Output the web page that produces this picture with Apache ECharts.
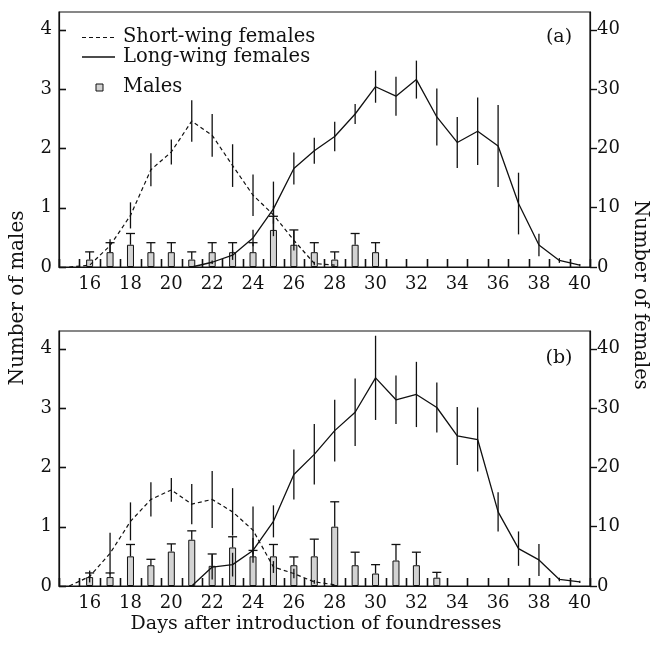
<!DOCTYPE html>
<html>
<head>
<meta charset="utf-8">
<script src="https://cdn.jsdelivr.net/npm/echarts/dist/echarts.min.js"></script>
<style>
  html, body { margin: 0; padding: 0; background: #fff; }
  #chart { width: 654px; height: 648px; }
</style>
</head>
<body>
<div id="chart"></div>
<script>
// days after introduction of foundresses
var days = [15, 16, 17, 18, 19, 20, 21, 22, 23, 24, 25, 26, 27, 28, 29, 30, 31, 32, 33, 34, 35, 36, 37, 38, 39, 40];
var dayLabels = [16, 18, 20, 22, 24, 26, 28, 30, 32, 34, 36, 38, 40];
var maleTicks = [0, 1, 2, 3, 4];
var femaleTicks = [0, 10, 20, 30, 40];

// panel (a)
var shortA    = [0, 0.3, 3.6, 8.7, 16.4, 19.4, 24.6, 22.2, 17.1, 12.1, 8.8, 4.5, 0.6, 0.3, '-', '-', '-', '-', '-', '-', '-', '-', '-', '-', '-', '-'];
var shortAErr = [0, 0, 1.1, 2.2, 2.8, 2.1, 3.5, 3.6, 3.6, 3.5, 1.5, 1.7, 0.3, 0, '-', '-', '-', '-', '-', '-', '-', '-', '-', '-', '-', '-'];
var longA     = ['-', '-', '-', '-', '-', '-', 0, 0.8, 2.0, 4.9, 9.8, 16.6, 19.6, 22.0, 25.8, 30.4, 28.8, 31.6, 25.3, 21.0, 22.9, 20.4, 10.7, 3.7, 1.1, 0.3];
var longAErr  = ['-', '-', '-', '-', '-', '-', 0, 0.3, 0.8, 1.4, 4.6, 2.7, 2.2, 2.5, 1.7, 2.7, 3.3, 3.2, 4.8, 4.3, 5.7, 6.9, 5.2, 1.9, 0.4, 0.2];
var malesA    = ['-', 0.125, 0.25, 0.375, 0.25, 0.25, 0.125, 0.25, 0.25, 0.25, 0.625, 0.375, 0.25, 0.125, 0.375, 0.25, '-', '-', '-', '-', '-', '-', '-', '-', '-', '-'];
var malesAErr = ['-', 0.13, 0.16, 0.19, 0.16, 0.16, 0.13, 0.16, 0.16, 0.16, 0.23, 0.25, 0.16, 0.13, 0.19, 0.16, '-', '-', '-', '-', '-', '-', '-', '-', '-', '-'];

// panel (b)
var shortB    = [0, 1.6, 5.5, 10.9, 14.6, 16.2, 13.8, 14.6, 12.5, 9.4, 3.2, 2.1, 0.7, 0.2, '-', '-', '-', '-', '-', '-', '-', '-', '-', '-', '-', '-'];
var shortBErr = [0, 1.0, 3.5, 3.2, 2.9, 2.0, 3.4, 4.8, 4.0, 4.0, 1.0, 0.8, 0.3, 0, '-', '-', '-', '-', '-', '-', '-', '-', '-', '-', '-', '-'];
var longB     = ['-', '-', '-', '-', '-', '-', 0, 3.2, 3.6, 6.0, 10.9, 18.8, 22.2, 26.2, 29.3, 35.1, 31.4, 32.3, 30.1, 25.3, 24.7, 12.5, 6.3, 4.4, 1.1, 0.7];
var longBErr  = ['-', '-', '-', '-', '-', '-', 0, 2.1, 2.0, 2.1, 2.7, 4.2, 5.1, 5.2, 5.7, 7.1, 4.1, 5.5, 4.2, 4.9, 5.4, 3.3, 2.9, 2.7, 0.3, 0.2];
var malesB    = ['-', 0.15, 0.15, 0.5, 0.35, 0.58, 0.78, 0.34, 0.65, 0.5, 0.5, 0.35, 0.5, 1.0, 0.35, 0.21, 0.43, 0.35, 0.14, '-', '-', '-', '-', '-', '-', '-'];
var malesBErr = ['-', 0.07, 0.07, 0.2, 0.1, 0.13, 0.15, 0.2, 0.18, 0.1, 0.2, 0.14, 0.29, 0.42, 0.22, 0.15, 0.27, 0.22, 0.09, '-', '-', '-', '-', '-', '-', '-'];

var FONT = 'DejaVu Serif';
var INK = '#111111';
var X_MIN = 14.5, X_MAX = 40.5;

// tick marks fall between days
var dayEdges = days.map(function (d) { return d - 0.5; }).concat([days[days.length - 1] + 0.5]);

// [day, value] pairs, skipping gaps
function pairs(vals) {
	var out = [];
	for (var i = 0; i < vals.length; i++) {
		if (vals[i] === '-') continue;
		out.push([days[i], vals[i]]);
	}
	return out;
}
// [day, value, err] triples, skipping gaps
function errData(vals, errs) {
	var out = [];
	for (var i = 0; i < vals.length; i++) {
		if (vals[i] === '-' || errs[i] === '-') continue;
		out.push([days[i], vals[i], errs[i]]);
	}
	return out;
}

function seg(x1, y1, x2, y2, w) {
	return { type: 'line', shape: { x1: x1, y1: y1, x2: x2, y2: y2 }, style: { stroke: INK, lineWidth: w || 1.3 } };
}

// vertical +/- bar, no cap (female lines)
function renderLineErr(params, api) {
	var d = api.value(0), v = api.value(1), e = api.value(2);
	if (!e) return null;
	var p1 = api.coord([d, v + e]);
	var p2 = api.coord([d, v - e]);
	return seg(p1[0], p1[1], p2[0], p2[1]);
}

// upper bar with cap (males)
function renderBarErr(params, api) {
	var d = api.value(0), v = api.value(1), e = api.value(2);
	if (!e) return null;
	var p1 = api.coord([d, v]);
	var p2 = api.coord([d, v + e]);
	return { type: 'group', children: [
		seg(p1[0], p1[1], p2[0], p2[1]),
		seg(p2[0] - 4.5, p2[1], p2[0] + 4.5, p2[1])
	] };
}

// inward ticks on the day axis, one per day edge
function renderDayTick(params, api) {
	var p = api.coord([api.value(0), 0]);
	var x = Math.round(p[0]) + 0.5;
	return seg(x, p[1], x, p[1] - 8, 1.6);
}
// inward ticks on the males axis
function renderMaleTick(params, api) {
	var p = api.coord([X_MIN, api.value(1)]);
	var y = Math.round(p[1]) + 0.5;
	return seg(p[0], y, p[0] + 7, y, 1.6);
}

function xAxisFor(g) {
	return {
		type: 'value', gridIndex: g, min: X_MIN, max: X_MAX,
		axisLine: { show: true, lineStyle: { color: INK, width: 1.2 } },
		axisTick: { show: false },
		axisLabel: { customValues: dayLabels, margin: 8, fontFamily: FONT, fontSize: 18, color: INK },
		splitLine: { show: false }
	};
}

function yAxisFor(g, right) {
	return {
		type: 'value', gridIndex: g, position: right ? 'right' : 'left',
		min: 0, max: right ? 43 : 4.3, interval: right ? 10 : 1,
		axisLine: { show: true, lineStyle: { color: INK, width: 1.2 } },
		axisTick: { show: right, inside: false, length: 7, customValues: femaleTicks, lineStyle: { color: INK, width: 1.4 } },
		axisLabel: { customValues: right ? femaleTicks : maleTicks, margin: 7, fontFamily: FONT, fontSize: 18, color: INK },
		splitLine: { show: false }
	};
}

function panelSeries(g, males, malesErr, shortW, shortErr, longW, longErr) {
	var yl = g * 2, yr = g * 2 + 1;
	return [
		{ name: 'Males', type: 'bar', xAxisIndex: g, yAxisIndex: yl, data: pairs(males), barWidth: 7,
		  itemStyle: { color: '#d3d3d3', borderColor: INK, borderWidth: 1 }, z: 2 },
		{ type: 'custom', xAxisIndex: g, yAxisIndex: yl, data: errData(males, malesErr), renderItem: renderBarErr, z: 3, clip: false },
		{ name: 'Short-wing females', type: 'line', xAxisIndex: g, yAxisIndex: yr, data: pairs(shortW), symbol: 'none',
		  lineStyle: { color: INK, width: 1.2, type: [4, 3] }, z: 4 },
		{ name: 'Long-wing females', type: 'line', xAxisIndex: g, yAxisIndex: yr, data: pairs(longW), symbol: 'none',
		  lineStyle: { color: INK, width: 1.3 }, z: 4 },
		{ type: 'custom', xAxisIndex: g, yAxisIndex: yr, data: errData(shortW, shortErr), renderItem: renderLineErr, z: 5, clip: false },
		{ type: 'custom', xAxisIndex: g, yAxisIndex: yr, data: errData(longW, longErr), renderItem: renderLineErr, z: 5, clip: false },
		// axis ticks
		{ type: 'custom', xAxisIndex: g, yAxisIndex: yl, data: dayEdges.map(function (e) { return [e, 0]; }), renderItem: renderDayTick, z: 6, clip: false, silent: true },
		{ type: 'custom', xAxisIndex: g, yAxisIndex: yl, data: maleTicks.map(function (t) { return [X_MIN, t]; }), renderItem: renderMaleTick, z: 6, clip: false, silent: true }
	];
}

var txt = function (x, y, s, rot, size) {
	return { type: 'text', x: x, y: y, rotation: rot || 0,
		style: { text: s, fontFamily: FONT, fontSize: size || 19, fill: INK, align: 'center', verticalAlign: 'middle', textAlign: 'center', textVerticalAlign: 'middle' } };
};
var legTxt = function (x, y, s) {
	return { type: 'text', x: x, y: y,
		style: { text: s, fontFamily: FONT, fontSize: 19.5, fill: INK, align: 'left', verticalAlign: 'middle', textAlign: 'left', textVerticalAlign: 'middle' } };
};

var dashSample = seg(82, 37.5, 115, 37.5, 1.2);
dashSample.style.lineDash = [4, 3];

var myChart = echarts.init(document.getElementById('chart'), null, { renderer: 'canvas' });
var option = {
	animation: false,
	backgroundColor: '#fff',
	grid: [
		{ left: 59, top: 12, width: 531, height: 255, show: true, borderColor: INK, borderWidth: 1.2, backgroundColor: 'transparent' },
		{ left: 59, top: 331, width: 531, height: 255, show: true, borderColor: INK, borderWidth: 1.2, backgroundColor: 'transparent' }
	],
	xAxis: [xAxisFor(0), xAxisFor(1)],
	yAxis: [yAxisFor(0, false), yAxisFor(0, true), yAxisFor(1, false), yAxisFor(1, true)],
	series: panelSeries(0, malesA, malesAErr, shortA, shortAErr, longA, longAErr)
		.concat(panelSeries(1, malesB, malesBErr, shortB, shortBErr, longB, longBErr)),
	graphic: [
		// axis titles
		txt(18, 298, 'Number of males', Math.PI / 2, 20),
		txt(640, 295, 'Number of females', -Math.PI / 2, 19.5),
		txt(316, 624, 'Days after introduction of foundresses', 0, 19),
		// panel tags
		txt(559, 37, '(a)'),
		txt(559, 358, '(b)'),
		// legend
		dashSample,
		legTxt(123, 37, 'Short-wing females'),
		seg(82, 57, 115, 57, 1.3),
		legTxt(123, 57, 'Long-wing females'),
		{ type: 'rect', shape: { x: 96, y: 84, width: 7, height: 7 }, style: { fill: '#d3d3d3', stroke: INK, lineWidth: 1 } },
		legTxt(123, 87, 'Males')
	]
};
myChart.setOption(option);
</script>
</body>
</html>
